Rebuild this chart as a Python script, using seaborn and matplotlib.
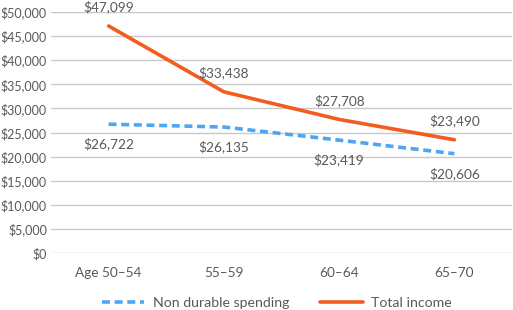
import matplotlib
matplotlib.use("Agg")
import matplotlib.pyplot as plt
import seaborn as sns
import pandas as pd

categories = ["Age 50\u201354", "55\u201359", "60\u201364", "65\u201370"]
non_durable = [26722, 26135, 23419, 20606]
total_income = [47099, 33438, 27708, 23490]
yticks = list(range(0, 50001, 5000))

sns.set_theme(style="white")
plt.rcParams['font.family'] = ['Lato', 'DejaVu Sans']
txt = "#595959"
fs = 9.8
tfs = 9.0

df = pd.DataFrame({
    "cat": categories * 2,
    "x": list(range(4)) * 2,
    "val": non_durable + total_income,
    "series": ["Non durable spending"] * 4 + ["Total income"] * 4,
})

fig = plt.figure(figsize=(5.13, 3.10), dpi=100)
ax = fig.add_axes([51/513, 1-253/310, 461/513, (253-12)/310])

blue = "#4EA6F2"
orange = "#F45B1F"
sns.lineplot(data=df[df.series == "Non durable spending"], x="x", y="val", ax=ax,
             color=blue, lw=2.6, linestyle=(0, (2.2, 1.3)), label="Non durable spending")
sns.lineplot(data=df[df.series == "Total income"], x="x", y="val", ax=ax,
             color=orange, lw=2.6, label="Total income")

for i, v in enumerate(non_durable):
    ax.annotate(f"${v:,}", (i, v), xytext=(0, -20), textcoords="offset pixels",
                ha="center", va="center", color=txt, fontsize=fs)
for i, v in enumerate(total_income):
    ax.annotate(f"${v:,}", (i, v), xytext=(0, 19), textcoords="offset pixels",
                ha="center", va="center", color=txt, fontsize=fs)

ax.set_xlim(-0.5, 3.5)
ax.set_ylim(0, 50000)
ax.set_yticks(yticks)
ax.set_yticklabels([f"${t:,}" for t in yticks], color=txt, fontsize=tfs)
ax.set_xticks(range(4))
ax.set_xticklabels(categories, color=txt, fontsize=fs)
ax.tick_params(axis="y", length=0, pad=3)
ax.tick_params(axis="x", length=0, pad=10)
ax.grid(axis="y", color="#C8C8C8", lw=1)
ax.set_axisbelow(True)
for s in ax.spines.values():
    s.set_visible(False)
ax.set_xlabel("")
ax.set_ylabel("")

leg = ax.legend(loc="center", frameon=False, ncol=2, fontsize=10.2,
                handlelength=3.0, handletextpad=0.6, columnspacing=2.2, labelcolor=txt)
leg.set_bbox_to_anchor((0.49, -(303-253)/(253-12)), transform=ax.transAxes)

fig.savefig("out.png", dpi=100)
